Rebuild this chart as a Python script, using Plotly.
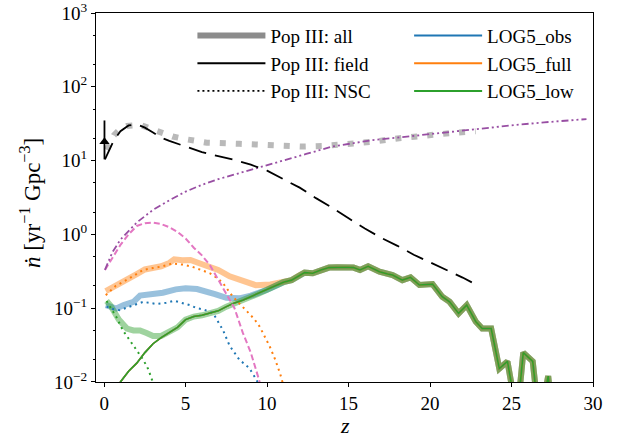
import plotly.graph_objects as go

# ---------------- data ----------------
# Pop III reference curves
popiii_all_z = [0.16, 0.6, 1.0, 1.4, 2.2, 3.0, 4.2, 5.0, 6.3, 8.3, 10.0, 11.2, 12.1, 13.5, 15.3, 16.5, 18.1, 19.5, 21.2, 22.8]
popiii_all_y = [14, 22, 27, 29.5, 30.5, 26, 21.2, 19.5, 17.5, 16.9, 16.0, 15.5, 15.5, 15.8, 16.9, 18.0, 20.1, 21.8, 23.5, 25.0]

popiii_field_z = [0.05, 0.6, 1.0, 1.5, 2.0, 2.5, 3.0, 3.5, 4.0, 5.0, 6.0, 7.0, 8.0, 9.0, 10.0, 11.0, 12.0, 13.0, 14.0, 15.0, 16.0, 17.0, 18.0, 19.0, 20.0, 21.0, 22.0, 22.8]
popiii_field_y = [10.4, 19, 25, 30, 31, 28, 24, 20.5, 18.5, 15.5, 13.0, 11.5, 10.2, 8.8, 7.3, 5.6, 4.3, 3.1, 2.3, 1.65, 1.2, 0.9, 0.7, 0.53, 0.42, 0.33, 0.26, 0.21]

nsc_z = [0.05, 0.5, 1.0, 1.5, 2.0, 3.0, 4.0, 5.0, 6.0, 7.0, 8.0, 9.35, 11.0, 12.4, 14.0, 16.5, 18.0, 20.0, 21.2, 23.0, 25.3, 27.0, 29.6]
nsc_y = [0.33, 0.57, 0.85, 1.12, 1.45, 2.15, 2.9, 3.8, 4.7, 5.6, 6.5, 7.9, 10.0, 12.3, 15.5, 19.0, 20.5, 23.0, 24.3, 27.0, 30.5, 33.0, 36.5]

pink_z = [0.05, 0.5, 1.0, 1.5, 2.0, 2.5, 3.0, 3.5, 4.0, 4.5, 5.0, 5.5, 6.0, 6.5, 7.0, 7.5, 8.0, 8.5, 9.0, 9.5, 9.8]
pink_y = [0.33, 0.48, 0.72, 1.0, 1.3, 1.42, 1.44, 1.38, 1.25, 1.08, 0.88, 0.66, 0.52, 0.38, 0.24, 0.155, 0.1, 0.047, 0.025, 0.0108, 0.006]

# observed local rate point
obs_z = [0.02]
obs_y = [18.0]
obs_hi = [35.0]
obs_lo = [10.4]

# LOG5 models: field component (shared by all three)
field_z = [0.9, 1.0, 1.5, 2.0, 2.5, 3.0, 3.5, 4.0, 4.5, 5.0, 5.5, 6.0, 6.5, 7.0, 7.5, 8.0, 8.5, 9.0, 9.5, 10.0, 10.5,
           11.0, 11.5, 12.0, 12.3, 12.8, 13.3, 13.8, 14.3, 14.9, 15.3, 15.7, 16.2, 16.9, 17.4, 17.7, 18.3, 18.8, 19.35,
           20.15, 20.75, 21.2, 21.75, 22.25, 22.8, 23.2, 23.75, 24.25, 24.75, 25.15, 25.45, 25.72, 26.3, 26.55, 27.0, 27.25, 27.4]
field_y = [0.0085, 0.01, 0.014, 0.018, 0.025, 0.033, 0.04, 0.047, 0.055, 0.07, 0.077, 0.08, 0.085, 0.092, 0.105, 0.118, 0.128, 0.143, 0.158, 0.178, 0.2,
           0.225, 0.24, 0.28, 0.303, 0.297, 0.33, 0.355, 0.36, 0.358, 0.355, 0.33, 0.37, 0.312, 0.29, 0.281, 0.24, 0.262, 0.206,
           0.212, 0.143, 0.122, 0.085, 0.11, 0.066, 0.053, 0.053, 0.0152, 0.019, 0.006, 0.006, 0.025, 0.019, 0.006, 0.006, 0.012, 0.006]

# total (thick) curves at low z; at high z they join the field curve
obs_all_z = [0.1, 0.4, 0.75, 1.2, 1.55, 1.8, 2.2, 2.8, 3.6, 4.4, 5.0, 5.7, 6.3, 6.8, 7.5, 8.3, 9.0, 9.5]
obs_all_y = [0.11, 0.105, 0.099, 0.11, 0.12, 0.122, 0.148, 0.152, 0.162, 0.18, 0.186, 0.182, 0.17, 0.155, 0.138, 0.136, 0.148, 0.16]
full_all_z = [0.1, 0.5, 1.0, 1.5, 2.0, 2.5, 3.0, 3.5, 4.0, 4.3, 4.8, 5.3, 5.8, 6.5, 7.0, 7.7, 8.5, 9.3, 10.2, 11.0]
full_all_y = [0.17, 0.19, 0.215, 0.24, 0.29, 0.335, 0.35, 0.37, 0.41, 0.46, 0.445, 0.45, 0.41, 0.37, 0.33, 0.27, 0.23, 0.205, 0.21, 0.23]
low_all_z = [0.15, 0.4, 0.9, 1.4, 1.8, 2.2, 2.6, 3.0, 3.5, 4.0, 4.4]
low_all_y = [0.125, 0.108, 0.07, 0.053, 0.05, 0.05, 0.046, 0.042, 0.042, 0.048, 0.055]

# NSC (dotted) components
obs_nsc_z = [0.15, 0.5, 0.95, 1.55, 2.0, 2.4, 3.2, 3.8, 4.3, 4.8, 5.25, 5.7, 6.1, 6.7, 7.1, 7.3, 7.7, 8.3, 8.9, 9.35, 9.6]
obs_nsc_y = [0.105, 0.098, 0.094, 0.105, 0.112, 0.122, 0.114, 0.118, 0.126, 0.118, 0.11, 0.1, 0.096, 0.085, 0.058, 0.05, 0.031, 0.02, 0.0155, 0.0107, 0.008]
full_nsc_z = [0.1, 0.7, 1.5, 2.4, 3.0, 3.6, 4.2, 4.8, 5.4, 6.0, 6.5, 7.0, 7.3, 7.9, 8.4, 8.75, 9.2, 9.55, 10.17, 10.5, 10.8, 11.0]
full_nsc_y = [0.15, 0.2, 0.25, 0.33, 0.35, 0.37, 0.405, 0.39, 0.365, 0.33, 0.297, 0.25, 0.217, 0.143, 0.11, 0.094, 0.072, 0.056, 0.03, 0.02, 0.013, 0.009]
low_nsc_z = [0.15, 0.4, 0.75, 1.15, 1.6, 2.0, 2.4, 2.7, 2.95, 3.05]
low_nsc_y = [0.125, 0.1, 0.076, 0.05, 0.036, 0.027, 0.02, 0.015, 0.0105, 0.008]

models = ["LOG5_obs", "LOG5_full", "LOG5_low"]
model_colors = ["#1f77b4", "#ff7f0e", "#2ca02c"]

x_ticks = [0, 5, 10, 15, 20, 25, 30]
y_ticks = [0.01, 0.1, 1, 10, 100, 1000]
y_ticktext = ["10<sup>−2</sup>", "10<sup>−1</sup>", "10<sup>0</sup>", "10<sup>1</sup>", "10<sup>2</sup>", "10<sup>3</sup>"]


def join_field(zs, ys):
    zlast = zs[-1]
    tz = [z for z in field_z if z > zlast]
    ty = [y for z, y in zip(field_z, field_y) if z > zlast]
    return zs + tz, ys + ty


fig = go.Figure()

# thick total lines
alls = [(obs_all_z, obs_all_y), (full_all_z, full_all_y), (low_all_z, low_all_y)]
for (zs, ys), c in zip(alls, model_colors):
    zz, yy = join_field(list(zs), list(ys))
    fig.add_trace(go.Scatter(x=zz, y=yy, mode="lines", line=dict(color=c, width=6),
                             opacity=0.45, showlegend=False, hoverinfo="skip"))

# dotted NSC lines
nscs = [(obs_nsc_z, obs_nsc_y), (full_nsc_z, full_nsc_y), (low_nsc_z, low_nsc_y)]
for (zs, ys), c in zip(nscs, model_colors):
    fig.add_trace(go.Scatter(x=zs, y=ys, mode="lines", line=dict(color=c, width=2, dash="2px,4px"),
                             showlegend=False, hoverinfo="skip"))

# thin field lines
for c in model_colors:
    fig.add_trace(go.Scatter(x=field_z, y=field_y, mode="lines", line=dict(color=c, width=1.6),
                             showlegend=False, hoverinfo="skip"))

# Pop III curves
fig.add_trace(go.Scatter(x=popiii_all_z, y=popiii_all_y, mode="lines",
                         line=dict(color="rgba(128,128,128,0.55)", width=6, dash="6px,10px"),
                         showlegend=False, hoverinfo="skip"))
fig.add_trace(go.Scatter(x=pink_z, y=pink_y, mode="lines",
                         line=dict(color="#e377c2", width=2, dash="6px,3px"),
                         showlegend=False, hoverinfo="skip"))
fig.add_trace(go.Scatter(x=nsc_z, y=nsc_y, mode="lines",
                         line=dict(color="#984ea3", width=1.8, dash="7px,3px,2px,3px,2px,3px"),
                         showlegend=False, hoverinfo="skip"))
fig.add_trace(go.Scatter(x=popiii_field_z, y=popiii_field_y, mode="lines",
                         line=dict(color="black", width=1.8, dash="18px,9px"),
                         showlegend=False, hoverinfo="skip"))
fig.add_trace(go.Scatter(x=obs_z, y=obs_y, mode="markers",
                         marker=dict(symbol="triangle-up", size=9, color="black"),
                         error_y=dict(type="data", symmetric=False,
                                      array=[h - v for h, v in zip(obs_hi, obs_y)],
                                      arrayminus=[v - l for l, v in zip(obs_lo, obs_y)],
                                      color="black", thickness=1.8, width=0),
                         showlegend=False, hoverinfo="skip"))

# legend proxies
fig.add_trace(go.Scatter(x=[None], y=[None], mode="lines", name="Pop III: all",
                         line=dict(color="#8c8c8c", width=6), legend="legend"))
fig.add_trace(go.Scatter(x=[None], y=[None], mode="lines", name="Pop III: field",
                         line=dict(color="black", width=1.8), legend="legend"))
fig.add_trace(go.Scatter(x=[None], y=[None], mode="lines", name="Pop III: NSC",
                         line=dict(color="black", width=1.8, dash="2px,3px"), legend="legend"))
for m, c in zip(models, model_colors):
    fig.add_trace(go.Scatter(x=[None], y=[None], mode="lines", name=m,
                             line=dict(color=c, width=2), legend="legend2"))

FAM = "Liberation Serif, Times New Roman, serif"
font = dict(family=FAM, size=19, color="black")
title_font = dict(family=FAM, size=23, color="black")
xtitle_font = dict(family=FAM, size=22, color="black")
fig.update_layout(
    width=625, height=439,
    margin=dict(l=96, r=32, t=13, b=57),
    paper_bgcolor="white", plot_bgcolor="white",
    font=font,
    legend=dict(x=0.194, y=0.99, xanchor="left", yanchor="top", bgcolor="rgba(0,0,0,0)",
                font=font, itemwidth=68, tracegroupgap=0),
    legend2=dict(x=0.630, y=0.99, xanchor="left", yanchor="top", bgcolor="rgba(0,0,0,0)",
                 font=font, itemwidth=68, tracegroupgap=0),
    annotations=[
        dict(text="<i>ṅ</i> [yr<sup>−1</sup> Gpc<sup>−3</sup>]", textangle=-90,
             xref="paper", yref="paper", x=-0.133, y=0.485, xanchor="center", yanchor="middle",
             showarrow=False, font=title_font),
        dict(text="<i>z</i>", xref="paper", yref="paper", x=0.5, y=-0.119,
             xanchor="center", yanchor="middle", showarrow=False, font=xtitle_font),
    ],
)
fig.update_xaxes(range=[-0.5, 30], tickvals=x_ticks, ticks="outside", ticklen=4, tickcolor="black",
                 showline=True, linecolor="black", linewidth=1, mirror=True, showgrid=False, zeroline=False,
                 tickfont=font, automargin=False)
fig.update_yaxes(type="log", range=[-2.0003, 3.0003], tickvals=y_ticks, ticktext=y_ticktext,
                 ticks="outside", ticklen=4, tickcolor="black", ticklabeloverflow="allow",
                 minor=dict(ticks="outside", ticklen=2, tickcolor="black", showgrid=False),
                 showline=True, linecolor="black", linewidth=1, mirror=True, showgrid=False, zeroline=False,
                 tickfont=font, automargin=False)

fig.write_html("out.html", config={"displayModeBar": False},
               post_script="document.body.style.margin='0px';document.body.style.overflow='hidden';")
